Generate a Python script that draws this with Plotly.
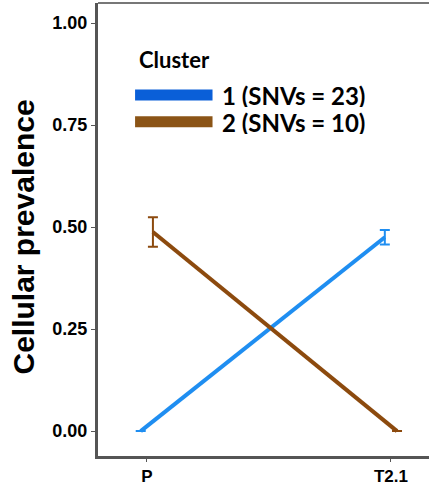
import plotly.graph_objects as go

samples = ["P", "T2.1"]
sample_pos = [1, 2]
cluster_names = ["1 (SNVs = 23)", "2 (SNVs = 10)"]
cluster1_mean = [0.0, 0.475]
cluster1_err = [0.0, 0.018]
cluster2_mean = [0.488, 0.0]
cluster2_err = [0.036, 0.0]
colors = ["#1f8ef1", "#8c4a0e"]
legend_colors = ["#0a5fd8", "#8b5416"]

dodge = 0.025
fig = go.Figure()
for i, (m, e) in enumerate([(cluster1_mean, cluster1_err), (cluster2_mean, cluster2_err)]):
    off = -dodge if i == 0 else dodge
    fig.add_trace(go.Scatter(
        x=[p + off for p in sample_pos], y=m, mode="lines",
        line=dict(color=colors[i], width=4),
        error_y=dict(type="data", array=e, visible=True, color=colors[i], thickness=2, width=5),
        showlegend=False, name=cluster_names[i]))

# custom legend
fig.add_annotation(xref="paper", yref="paper", x=0.118, y=0.876, text="Cluster",
                   showarrow=False, xanchor="left", yanchor="middle",
                   font=dict(family="Lato", size=22, color="black", weight="bold"))
for i, name in enumerate(cluster_names):
    yy = 0.797 - i * 0.059
    fig.add_shape(type="line", xref="paper", yref="paper", x0=0.112, x1=0.346, y0=yy, y1=yy,
                  line=dict(color=legend_colors[i], width=11))
    fig.add_annotation(xref="paper", yref="paper", x=0.372, y=yy, text=name,
                       showarrow=False, xanchor="left", yanchor="middle", height=24, borderpad=0,
                       font=dict(family="Lato", size=24, color="black", weight="bold"))

# y-axis title
fig.add_annotation(xref="paper", yref="paper", x=-0.2236, y=0.4845, text="Cellular prevalence",
                   textangle=-90, showarrow=False, xanchor="center", yanchor="middle",
                   font=dict(family="Liberation Sans", size=30, color="black", weight="bold"))

# top border
fig.add_shape(type="line", xref="paper", yref="paper", x0=0, x1=1, y0=1, y1=1,
              line=dict(color="#777777", width=2))

tickfont = dict(family="Liberation Sans", size=18, color="black", weight="bold")
xtickfont = dict(family="Liberation Sans", size=17, color="black", weight="bold")
fig.update_layout(
    width=429, height=487,
    margin=dict(l=98, r=0, t=3, b=31),
    plot_bgcolor="white", paper_bgcolor="white",
    xaxis=dict(range=[0.8, 2.156], tickvals=sample_pos, ticktext=samples, automargin=False,
               showgrid=False, zeroline=False, showline=True, linecolor="#555555", linewidth=3,
               ticks="outside", ticklen=3, tickcolor="#555555", tickfont=xtickfont),
    yaxis=dict(range=[-0.061, 1.049], tickvals=[0, 0.25, 0.5, 0.75, 1.0],
               ticktext=["0.00", "0.25", "0.50", "0.75", "1.00"], automargin=False,
               showgrid=False, zeroline=False, showline=True, linecolor="#555555", linewidth=3,
               ticks="outside", ticklen=4, tickcolor="#555555", tickfont=tickfont),
)
fig.write_html("out.html")
